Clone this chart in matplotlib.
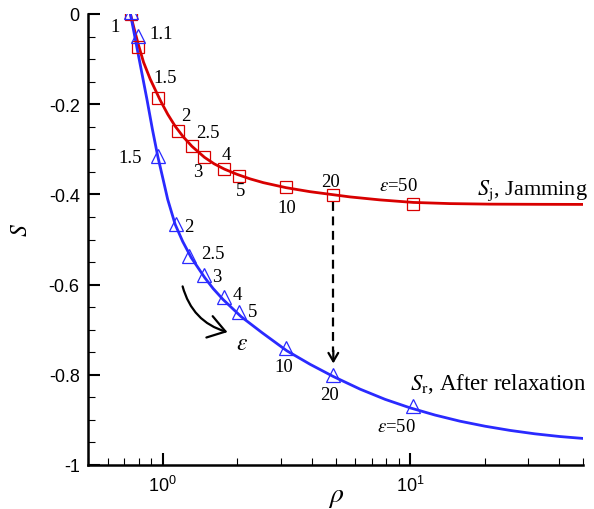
import matplotlib
matplotlib.use('Agg')
import matplotlib.pyplot as plt
import numpy as np
from matplotlib.ticker import MultipleLocator, LogLocator, NullFormatter, FuncFormatter
from matplotlib.patches import FancyArrowPatch

plt.rcParams['font.family'] = 'Liberation Sans'
plt.rcParams['mathtext.fontset'] = 'stix'
plt.rcParams['axes.unicode_minus'] = False

# markers: jamming (red squares) and after relaxation (blue triangles)
jam_rho = [0.748, 0.796, 0.963, 1.15, 1.314, 1.478, 1.78, 2.046, 3.158, 4.90, 10.31]
jam_S = [0.0, -0.073, -0.187, -0.259, -0.293, -0.317, -0.344, -0.359, -0.383, -0.402, -0.421]
rel_rho = [0.748, 0.793, 0.963, 1.136, 1.282, 1.478, 1.775, 2.04, 3.158, 4.88, 10.31]
rel_S = [0.005, -0.048, -0.315, -0.466, -0.536, -0.579, -0.627, -0.661, -0.741, -0.800, -0.869]

# fitted curves
jam_curve_rho = [0.742, 0.7686, 0.7978, 0.838, 0.892, 0.9788, 1.0495, 1.1254, 1.2122, 1.3144,
                 1.4776, 1.6171, 1.7793, 2.0026, 2.2605, 2.5574, 3.158, 3.9475, 5.728,
                 7.567, 10.31, 14.5, 21.04, 33.49, 50.0]
jam_curve_S = [0.0, -0.0333, -0.0667, -0.1067, -0.1444, -0.1911, -0.2222, -0.2489, -0.2722,
               -0.2933, -0.3178, -0.3322, -0.344, -0.3556, -0.3656, -0.374, -0.3851, -0.394,
               -0.4056, -0.4122, -0.4178, -0.4204, -0.4216, -0.422, -0.4222]
rel_curve_rho = [0.742, 0.7904, 0.865, 0.9103, 0.9563, 1.0056, 1.0495, 1.1254, 1.2066, 1.3059,
                 1.4805, 1.6023, 1.7585, 2.0783, 2.5262, 3.178, 3.947, 4.90, 6.284, 7.929,
                 10.01, 12.63, 15.93, 20.10, 25.36, 31.99, 40.36, 50.0]
rel_curve_S = [0.0, -0.0778, -0.1889, -0.2556, -0.3149, -0.3667, -0.4111, -0.4667, -0.5044,
               -0.54, -0.5844, -0.6089, -0.6333, -0.6711, -0.7067, -0.7467, -0.7767, -0.8038,
               -0.8318, -0.8544, -0.8733, -0.8893, -0.9029, -0.914, -0.9233, -0.9309,
               -0.9369, -0.9411]

# epsilon labels and their offsets (pixels) from the markers
jam_labels = ['1', '', '1.5', '2', '2.5', '3', '4', '5', '10', '20', r'$\varepsilon$=50']
jam_offsets = [(-16, -12), (0, 0), (7, 21), (8, 15), (16, 14), (-7, -15), (2, 15),
               (1, -15), (1, -21), (-3, 14), (-15, 18)]
rel_labels = ['', '1.1', '1.5', '2', '2.5', '3', '4', '5', '10', '20', r'$\varepsilon$=50']
rel_offsets = [(0, 0), (24, 2), (-28, -1), (13, -2), (24, 2), (12, -1), (13, 2), (13, 1),
               (-2, -18), (-3, -20), (-17, -21)]

red = '#d80000'
blue = '#2a2aff'

fig = plt.figure(figsize=(5.94, 5.10), dpi=100)
ax = fig.add_axes([88 / 594, 1 - 466 / 510, 495 / 594, 451 / 510])

ax.plot(jam_curve_rho, jam_curve_S, color=red, lw=2)
ax.plot(rel_curve_rho, rel_curve_S, color=blue, lw=2)
ax.plot(jam_rho, jam_S, ls='none', marker='s', ms=8.9, mfc='none', mec=red, mew=0.9)
ax.plot(rel_rho, rel_S, ls='none', marker='^', ms=9.6, mfc='none', mec=blue, mew=0.9)

for lab, (dx, dy), x, y in zip(jam_labels, jam_offsets, jam_rho, jam_S):
    if lab:
        ax.annotate(lab, (x, y), xytext=(dx, dy), textcoords='offset pixels',
                    ha='center', va='center', family='Liberation Serif', fontsize=13.5)
for lab, (dx, dy), x, y in zip(rel_labels, rel_offsets, rel_rho, rel_S):
    if lab:
        ax.annotate(lab, (x, y), xytext=(dx, dy), textcoords='offset pixels',
                    ha='center', va='center', family='Liberation Serif', fontsize=13.5)

ax.text(18.65, -0.40, r'$S_{\rm j}$, Jamming', family='Liberation Serif', fontsize=16,
        va='baseline', ha='left', clip_on=False)
ax.text(10.0, -0.832, r'$S_{\rm r}$, After relaxation', family='Liberation Serif',
        fontsize=16.5, va='baseline', ha='left', clip_on=False)

# dashed arrow from jamming state to relaxed state at eps=20
x20 = jam_rho[9]
ax.plot([x20, x20], [jam_S[9] - 0.015, rel_S[9] + 0.05], color='k', lw=1.6,
        ls=(0, (4, 2.5)))
ax.annotate('', xy=(x20, rel_S[9] + 0.019), xytext=(x20, rel_S[9] + 0.06),
            arrowprops=dict(arrowstyle='->,head_length=0.6,head_width=0.35', color='k', lw=1.6))

# curved arrow for increasing epsilon
arr = FancyArrowPatch((1.198, -0.598), (1.876, -0.707), connectionstyle='arc3,rad=0.3',
                      arrowstyle='->,head_length=6,head_width=4', color='k', lw=1.6,
                      mutation_scale=2)
ax.add_patch(arr)
ax.text(2.093, -0.729, r'$\varepsilon$', fontsize=17, ha='center', va='center')

ax.set_xscale('log')
ax.set_xlim(0.5, 50)
ax.set_ylim(-1, 0)
ax.xaxis.set_major_locator(LogLocator(base=10))
ax.xaxis.set_minor_locator(LogLocator(base=10, subs=np.arange(2, 10)))
ax.xaxis.set_minor_formatter(NullFormatter())
ax.yaxis.set_major_locator(MultipleLocator(0.2))
ax.yaxis.set_minor_locator(MultipleLocator(0.05))
ax.yaxis.set_major_formatter(FuncFormatter(lambda v, p: '%g' % round(v, 2)))

for s in ['top', 'right']:
    ax.spines[s].set_visible(False)
for s in ['left', 'bottom']:
    ax.spines[s].set_linewidth(1.8)
ax.tick_params(which='major', direction='in', length=8.4, width=1.5, labelsize=13, pad=6)
ax.tick_params(which='minor', direction='in', length=4.8, width=0.8)
ax.tick_params(axis='x', which='major', pad=7)

ax.set_ylabel(r'$S$', fontsize=17, rotation=90)
ax.yaxis.set_label_coords(-0.113, 0.523)
ax.set_xlabel(r'$\rho$', fontsize=20)
ax.xaxis.set_label_coords(0.502, -0.04)

fig.savefig('out.png', dpi=100)
